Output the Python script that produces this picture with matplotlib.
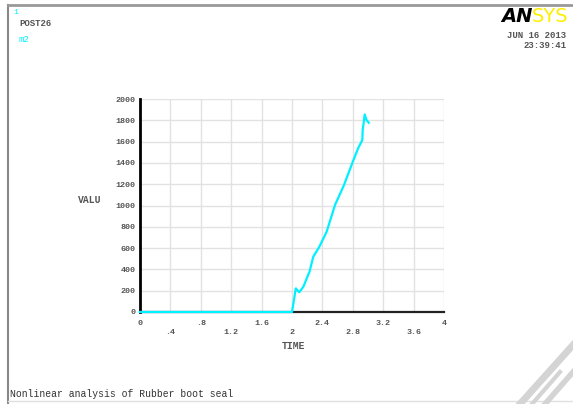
import matplotlib
matplotlib.use("Agg")
import matplotlib.pyplot as plt
from matplotlib.lines import Line2D

# POST26 time-history: reaction value vs. load time
time = [0.0, 2.0, 2.05, 2.096, 2.15, 2.23, 2.28, 2.36, 2.456, 2.566, 2.684,
        2.80, 2.87, 2.925, 2.93, 2.945, 2.956, 2.98, 3.01]
valu = [0, 0, 222, 185, 238, 378, 519, 613, 754, 1005, 1192,
        1411, 1537, 1615, 1709, 1787, 1855, 1803, 1777]

xticks = [0, 0.4, 0.8, 1.2, 1.6, 2.0, 2.4, 2.8, 3.2, 3.6, 4.0]
xtick_labels = ["0", ".4", ".8", "1.2", "1.6", "2", "2.4", "2.8", "3.2", "3.6", "4"]
yticks = [0, 200, 400, 600, 800, 1000, 1200, 1400, 1600, 1800, 2000]

MONO = ["Liberation Mono", "DejaVu Sans Mono"]
TXT = "#555555"
CYAN = "#00f0ff"

fig = plt.figure(figsize=(5.73, 4.04), dpi=100)
ax = fig.add_axes([140 / 573, 1 - 312 / 404, 304 / 573, 213 / 404])

ax.set_xlim(0, 4)
ax.set_ylim(0, 2000)
ax.set_xticks(xticks)
ax.set_yticks(yticks)
ax.grid(True, color="#e2e2e2", lw=1.0)
ax.set_axisbelow(True)
for s in ("top", "right"):
    ax.spines[s].set_visible(False)
ax.spines["left"].set_linewidth(2.0)
ax.spines["bottom"].set_linewidth(1.6)
ax.spines["left"].set_color("black")
ax.spines["bottom"].set_color("#222222")
ax.tick_params(length=0, pad=3)
ax.set_yticklabels([str(v) for v in yticks], fontsize=6, family=MONO,
                   color=TXT, fontweight="bold")
ax.set_xticklabels([])

# staggered x tick labels, ANSYS style
for i, (t, lab) in enumerate(zip(xticks, xtick_labels)):
    yoff = -8 if i % 2 == 0 else -15
    ax.annotate(lab, (t, 0), xytext=(0, yoff), textcoords="offset points",
                ha="center", va="center", fontsize=6, family=MONO,
                color=TXT, fontweight="bold", annotation_clip=False)

ax.plot(time, valu, color=CYAN, lw=1.6, clip_on=False, zorder=5)

fig.text(293 / 573, 1 - 346 / 404, "TIME", ha="center", va="center",
         fontsize=7, family=MONO, color=TXT, fontweight="bold")
fig.text(90 / 573, 1 - 200 / 404, "VALU", ha="center", va="center",
         fontsize=7, family=MONO, color=TXT, fontweight="bold")

# header labels
fig.text(13 / 573, 1 - 12 / 404, "1", fontsize=6, family=MONO, color=CYAN,
         va="center")
fig.text(19 / 573, 1 - 23 / 404, "POST26", fontsize=6.5, family=MONO,
         color=TXT, fontweight="bold", va="center")
fig.text(19 / 573, 1 - 40 / 404, "m2", fontsize=6.5, family=MONO,
         color=CYAN, va="center")

# logo: yellow SYS right-aligned, black AN placed just before it
sys_txt = fig.text(568 / 573, 1 - 17 / 404, "SYS", fontsize=14,
                   family="DejaVu Sans", color="#ffee00", ha="right",
                   va="center")
renderer = fig.canvas.get_renderer()
bb = sys_txt.get_window_extent(renderer)
fig.text(bb.x0 / fig.bbox.width + 0.002, 1 - 17 / 404, "AN", fontsize=14,
         family="DejaVu Sans", fontweight="heavy", color="black", ha="right",
         va="center", fontstyle="italic")

fig.text(566 / 573, 1 - 35 / 404, "JUN 16 2013", fontsize=6.5, family=MONO,
         color=TXT, fontweight="bold", ha="right", va="center")
fig.text(566 / 573, 1 - 46 / 404, "23:39:41", fontsize=6.5, family=MONO,
         color=TXT, fontweight="bold", ha="right", va="center")
fig.text(10 / 573, 1 - 394 / 404, "Nonlinear analysis of Rubber boot seal",
         fontsize=7, family=MONO, color="#333333", va="center")

# window frame
fig.add_artist(Line2D([8 / 573, 8 / 573], [0, 1 - 5 / 404],
                      transform=fig.transFigure, color="#888888", lw=1.5))
fig.add_artist(Line2D([8 / 573, 1], [1 - 5 / 404, 1 - 5 / 404],
                      transform=fig.transFigure, color="#999999", lw=2))
fig.add_artist(Line2D([8 / 573, 1], [1 - 401 / 404, 1 - 401 / 404],
                      transform=fig.transFigure, color="#e0e0e0", lw=1))

# faint corner mark
for x0, y0, x1, y1, w in [(520, 404, 573, 345, 5), (545, 404, 573, 372, 4),
                          (532, 404, 560, 372, 3)]:
    fig.add_artist(Line2D([x0 / 573, x1 / 573], [1 - y0 / 404, 1 - y1 / 404],
                          transform=fig.transFigure, color="#d4d4d4", lw=w))

fig.savefig("out.png", dpi=100)
